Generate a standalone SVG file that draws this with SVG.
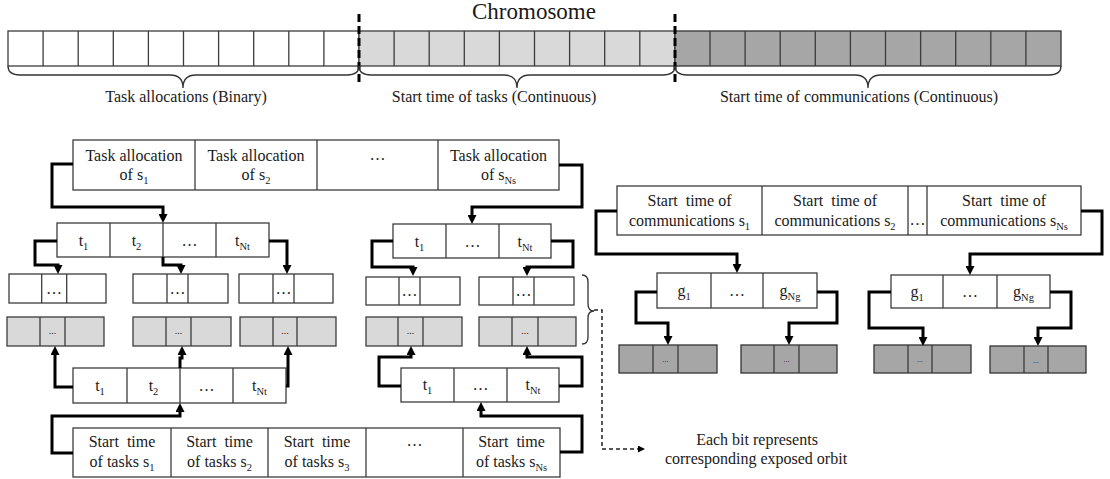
<svg xmlns="http://www.w3.org/2000/svg" width="1110" height="479" viewBox="0 0 1110 479">
  <defs>
    <style>
      .w { fill: #ffffff; stroke: #3c3c3c; stroke-width: 1.3; }
      .lg { fill: #d9d9d9; stroke: #3c3c3c; stroke-width: 1.3; }
      .dg { fill: #a6a6a6; stroke: #333333; stroke-width: 1.3; }
      .div { fill: none; stroke: #3c3c3c; stroke-width: 1.3; }
      .t { font-family: "Liberation Serif", "Times New Roman", serif; font-size: 16px; fill: #1a1a1a; text-anchor: middle; white-space: pre; }
      .title { font-size: 23px; }
      .sub { font-size: 10.5px; }
      .dots { font-size: 10px; }
      .dots2 { font-size: 8px; }
      .conn { fill: none; stroke: #000000; stroke-width: 3; stroke-linejoin: miter; marker-end: url(#ah); }
      .brace { fill: none; stroke: #333333; stroke-width: 1.3; }
      .sep { fill: none; stroke: #000000; stroke-width: 3; stroke-dasharray: 8 4; }
      .dash { fill: none; stroke: #222222; stroke-width: 1.5; stroke-dasharray: 4 3; marker-end: url(#ahs); }
    </style>
    <marker id="ah" markerUnits="userSpaceOnUse" viewBox="0 0 9 9" refX="1" refY="4.5" markerWidth="9" markerHeight="9" orient="auto">
      <path d="M0,0 L9,4.5 L0,9 z" fill="#000000"/>
    </marker>
    <marker id="ahs" markerUnits="userSpaceOnUse" viewBox="0 0 7 7" refX="1" refY="3.5" markerWidth="7" markerHeight="7" orient="auto">
      <path d="M0,0 L7,3.5 L0,7 z" fill="#000000"/>
    </marker>
  </defs>

  <!-- Chromosome bar -->
  <g id="chromosome">
    <text class="t title" x="534" y="19">Chromosome</text>
    <rect class="w" x="8" y="31" width="351" height="35"/>
    <rect class="lg" x="359" y="31" width="316" height="35"/>
    <rect class="dg" x="675" y="31" width="386" height="35"/>
    <path class="div" d="M43.1,31V66 M78.2,31V66 M113.3,31V66 M148.4,31V66 M183.5,31V66 M218.6,31V66 M253.7,31V66 M288.8,31V66 M323.9,31V66 M394.1,31V66 M429.2,31V66 M464.3,31V66 M499.4,31V66 M534.5,31V66 M569.6,31V66 M604.7,31V66 M639.8,31V66 M710,31V66 M745.1,31V66 M780.2,31V66 M815.3,31V66 M850.4,31V66 M885.5,31V66 M920.6,31V66 M955.7,31V66 M990.8,31V66 M1025.9,31V66"/>
    <path class="sep" d="M359,14V82 M675,14V82"/>
    <path class="brace" d="M8,66 Q8,75 20,75 H170 Q183,75 183,88 Q183,75 196,75 H347 Q359,75 359,66"/>
    <path class="brace" d="M359,66 Q359,75 371,75 H504 Q517,75 517,88 Q517,75 530,75 H663 Q675,75 675,66"/>
    <path class="brace" d="M675,66 Q675,75 687,75 H855 Q868,75 868,88 Q868,75 881,75 H1049 Q1061,75 1061,66"/>
    <text class="t" x="186" y="102">Task allocations (Binary)</text>
    <text class="t" x="494" y="102">Start time of tasks (Continuous)</text>
    <text class="t" x="859" y="102">Start time of communications (Continuous)</text>
  </g>

  <!-- Task allocation per satellite -->
  <g id="task-allocation">
    <rect class="w" x="73" y="140" width="486" height="50"/>
    <path class="div" d="M195,140V190 M317,140V190 M438,140V190"/>
    <text class="t" x="134" y="161">Task allocation</text>
    <text class="t" x="134" y="180">of s<tspan class="sub" dy="4">1</tspan></text>
    <text class="t" x="256" y="161">Task allocation</text>
    <text class="t" x="256" y="180">of s<tspan class="sub" dy="4">2</tspan></text>
    <text class="t" x="377.5" y="160">…</text>
    <text class="t" x="498.5" y="161">Task allocation</text>
    <text class="t" x="498.5" y="180">of s<tspan class="sub" dy="4">Ns</tspan></text>
  </g>

  <g id="alloc-tasks-s1">
    <rect class="w" x="57" y="223" width="212" height="34"/>
    <path class="div" d="M110,223V257 M163,223V257 M216,223V257"/>
    <text class="t" x="83.5" y="246">t<tspan class="sub" dy="4">1</tspan></text>
    <text class="t" x="136.5" y="246">t<tspan class="sub" dy="4">2</tspan></text>
    <text class="t" x="189.5" y="246">…</text>
    <text class="t" x="242.5" y="246">t<tspan class="sub" dy="4">Nt</tspan></text>
  </g>

  <g id="alloc-tasks-sNs">
    <rect class="w" x="393" y="224" width="158" height="34"/>
    <path class="div" d="M446,224V258 M499,224V258"/>
    <text class="t" x="419.5" y="247">t<tspan class="sub" dy="4">1</tspan></text>
    <text class="t" x="472.5" y="247">…</text>
    <text class="t" x="525" y="247">t<tspan class="sub" dy="4">Nt</tspan></text>
  </g>

  <!-- Orbit bits of task allocation -->
  <g id="alloc-bits">
    <rect class="w" x="9" y="274" width="97" height="29"/>
    <path class="div" d="M41.7,274V303 M66.7,274V303"/>
    <text class="t" x="54" y="294">…</text>
    <rect class="w" x="133" y="274" width="95" height="29"/>
    <path class="div" d="M167,274V303 M188,274V303"/>
    <text class="t" x="177.5" y="294">…</text>
    <rect class="w" x="239" y="274" width="94" height="29"/>
    <path class="div" d="M273,274V303 M294,274V303"/>
    <text class="t" x="283.5" y="294">…</text>
    <rect class="w" x="366" y="277" width="94" height="28"/>
    <path class="div" d="M399,277V305 M420,277V305"/>
    <text class="t" x="409.5" y="296">…</text>
    <rect class="w" x="479" y="277" width="95" height="28"/>
    <path class="div" d="M513,277V305 M534,277V305"/>
    <text class="t" x="523.5" y="296">…</text>
  </g>

  <!-- Start-time slots of tasks -->
  <g id="start-bits">
    <rect class="lg" x="7" y="317" width="97" height="29"/>
    <path class="div" d="M40,317V346 M65,317V346"/>
    <text class="t dots" x="52.5" y="334">...</text>
    <rect class="lg" x="133" y="317" width="98" height="29"/>
    <path class="div" d="M166,317V346 M191,317V346"/>
    <text class="t dots" x="178.5" y="334">...</text>
    <rect class="lg" x="240" y="317" width="96" height="29"/>
    <path class="div" d="M273,317V346 M297,317V346"/>
    <text class="t dots" x="285" y="334">...</text>
    <rect class="lg" x="366" y="317" width="96" height="29"/>
    <path class="div" d="M398,317V346 M423,317V346"/>
    <text class="t dots" x="410.5" y="334">...</text>
    <rect class="lg" x="479" y="317" width="97" height="29"/>
    <path class="div" d="M512,317V346 M538,317V346"/>
    <text class="t dots" x="525" y="334">...</text>
  </g>

  <g id="start-tasks-s1">
    <rect class="w" x="73" y="368" width="213" height="35"/>
    <path class="div" d="M127,368V403 M180,368V403 M233,368V403"/>
    <text class="t" x="100" y="391">t<tspan class="sub" dy="4">1</tspan></text>
    <text class="t" x="153.5" y="391">t<tspan class="sub" dy="4">2</tspan></text>
    <text class="t" x="206.5" y="391">…</text>
    <text class="t" x="259.5" y="391">t<tspan class="sub" dy="4">Nt</tspan></text>
  </g>

  <g id="start-tasks-sNs">
    <rect class="w" x="401" y="368" width="158" height="34"/>
    <path class="div" d="M454,368V402 M507,368V402"/>
    <text class="t" x="427.5" y="390">t<tspan class="sub" dy="4">1</tspan></text>
    <text class="t" x="480.5" y="390">…</text>
    <text class="t" x="533" y="390">t<tspan class="sub" dy="4">Nt</tspan></text>
  </g>

  <g id="start-time-tasks">
    <rect class="w" x="73" y="428" width="487" height="49"/>
    <path class="div" d="M171,428V477 M268,428V477 M366,428V477 M463,428V477"/>
    <text class="t" x="122" y="447">Start  time</text>
    <text class="t" x="122" y="467">of tasks s<tspan class="sub" dy="4">1</tspan></text>
    <text class="t" x="219.5" y="447">Start  time</text>
    <text class="t" x="219.5" y="467">of tasks s<tspan class="sub" dy="4">2</tspan></text>
    <text class="t" x="317" y="447">Start  time</text>
    <text class="t" x="317" y="467">of tasks s<tspan class="sub" dy="4">3</tspan></text>
    <text class="t" x="414.5" y="446">…</text>
    <text class="t" x="511.5" y="447">Start  time</text>
    <text class="t" x="511.5" y="467">of tasks s<tspan class="sub" dy="4">Ns</tspan></text>
  </g>

  <!-- Communication start times -->
  <g id="start-time-comms">
    <rect class="w" x="617" y="186" width="464" height="49"/>
    <path class="div" d="M762,186V235 M908,186V235 M927,186V235"/>
    <text class="t" x="689.5" y="206">Start  time of</text>
    <text class="t" x="689.5" y="226">communications s<tspan class="sub" dy="4">1</tspan></text>
    <text class="t" x="835" y="206">Start  time of</text>
    <text class="t" x="835" y="226">communications s<tspan class="sub" dy="4">2</tspan></text>
    <text class="t" x="917.5" y="225">…</text>
    <text class="t" x="1004" y="206">Start  time of</text>
    <text class="t" x="1004" y="226">communications s<tspan class="sub" dy="4">Ns</tspan></text>
  </g>

  <g id="comm-groups-s1">
    <rect class="w" x="657" y="273" width="160" height="35"/>
    <path class="div" d="M711,273V308 M763,273V308"/>
    <text class="t" x="684" y="296">g<tspan class="sub" dy="4">1</tspan></text>
    <text class="t" x="737" y="296">…</text>
    <text class="t" x="790" y="296">g<tspan class="sub" dy="4">Ng</tspan></text>
  </g>

  <g id="comm-groups-sNs">
    <rect class="w" x="891" y="275" width="159" height="33"/>
    <path class="div" d="M943,275V308 M997,275V308"/>
    <text class="t" x="917" y="297">g<tspan class="sub" dy="4">1</tspan></text>
    <text class="t" x="970" y="297">…</text>
    <text class="t" x="1023.5" y="297">g<tspan class="sub" dy="4">Ng</tspan></text>
  </g>

  <g id="comm-bits">
    <rect class="dg" x="619" y="345" width="98" height="28"/>
    <path class="div" d="M653,345V373 M678,345V373"/>
    <text class="t dots2" x="665.5" y="362">...</text>
    <rect class="dg" x="741" y="345" width="96" height="28"/>
    <path class="div" d="M774,345V373 M799,345V373"/>
    <text class="t dots2" x="786.5" y="362">...</text>
    <rect class="dg" x="874" y="345" width="97" height="28"/>
    <path class="div" d="M908,345V373 M932,345V373"/>
    <text class="t dots2" x="920" y="362">...</text>
    <rect class="dg" x="990" y="346" width="96" height="27"/>
    <path class="div" d="M1024,346V373 M1048,346V373"/>
    <text class="t dots2" x="1036" y="363">...</text>
  </g>

  <!-- Annotation -->
  <g id="note">
    <path class="brace" d="M582,275 Q588,275 588,282 V304 Q588,311 594,311 Q588,311 588,318 V337 Q588,344 582,344"/>
    <text class="t" x="757" y="445">Each bit represents</text>
    <text class="t" x="756" y="464">corresponding exposed orbit</text>
  </g>

  <!-- Connectors -->
  <g id="connectors">
    <path class="conn" d="M73,164 H52 V207 H163 V215"/>
    <path class="conn" d="M559,165 H582 V207 H472 V216"/>
    <path class="conn" d="M57,241 H35 V265 H58 V266"/>
    <path class="conn" d="M163,257 V265 H181 V266"/>
    <path class="conn" d="M269,241 H287 V266"/>
    <path class="conn" d="M393,241 H372 V267 H413 V268"/>
    <path class="conn" d="M551,241 H573 V267 H527 V268"/>
    <path class="conn" d="M73,387 H55 V354"/>
    <path class="conn" d="M180,368 V358 H182 V354"/>
    <path class="conn" d="M286,386 H288 V354"/>
    <path class="conn" d="M73,453 H52 V416 H180 V411"/>
    <path class="conn" d="M560,452 H582 V416 H481 V410"/>
    <path class="conn" d="M401,386 H379 V357 H411 V354"/>
    <path class="conn" d="M559,386 H582 V357 H527 V354"/>
    <path class="conn" d="M617,211 H596 V254 H737 V265"/>
    <path class="conn" d="M1081,211 H1102 V254 H970 V267"/>
    <path class="conn" d="M657,292 H636 V323 H668 V337"/>
    <path class="conn" d="M817,292 H837 V323 H789 V337"/>
    <path class="conn" d="M891,292 H869 V328 H923 V338"/>
    <path class="conn" d="M1050,292 H1071 V328 H1038 V338"/>
    <path class="dash" d="M594,310 H602 V449 H639"/>
  </g>
</svg>
